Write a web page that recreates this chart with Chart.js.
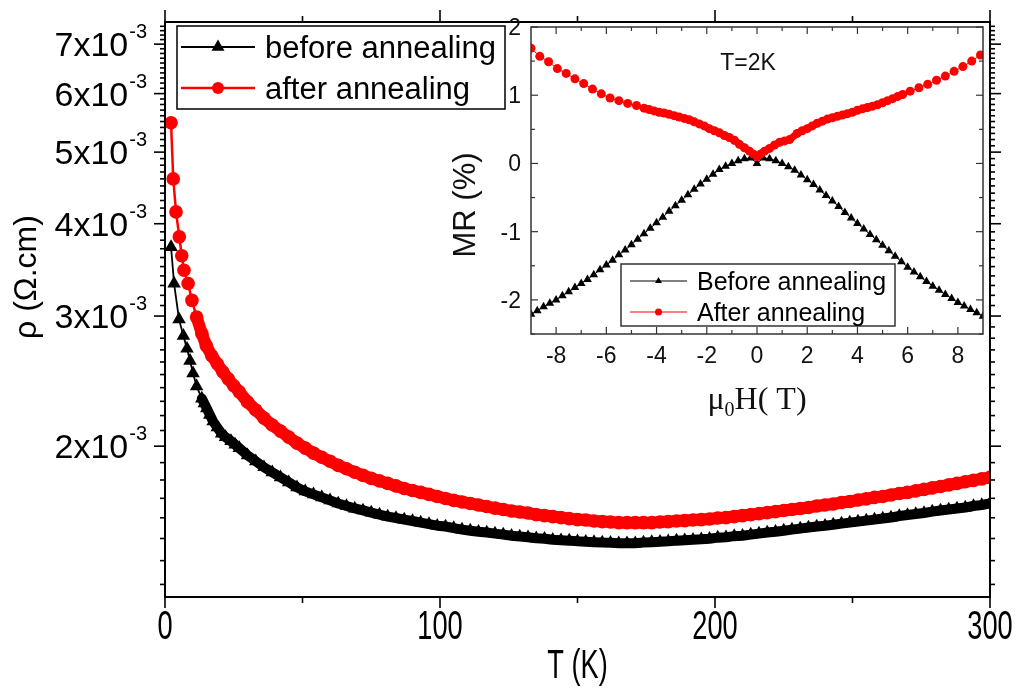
<!DOCTYPE html>
<html>
<head>
<meta charset="utf-8">
<script src="https://cdn.jsdelivr.net/npm/chart.js@4.4.0/dist/chart.umd.min.js"></script>
<style>
    html, body { margin: 0; padding: 0; background: #fff; overflow: hidden; }
    #wrap { position: relative; width: 1025px; height: 695px; }
    #main { position: absolute; left: 0; top: 0; }
    #inset { position: absolute; left: 420px; top: 0; }
</style>
</head>
<body>
<div id="wrap">
    <canvas id="main" width="1025" height="695"></canvas>
    <canvas id="inset" width="600" height="430"></canvas>
</div>
<script>
// rho in units of 10^-3 Ohm.cm, T in K
const tBefore = [2.2, 3.3, 5.1, 6.7, 8.0, 9.1, 10.2, 11.5, 13.4, 14.3, 15.2, 16.3, 17.5, 19.0, 20.6, 22, 24, 25.5,
    27, 30, 33, 36, 39, 42, 45, 48, 51, 54,
    57, 60, 63, 66, 69, 72, 75, 78, 81, 84,
    87, 90, 93, 96, 99, 102, 105, 108, 111, 114,
    117, 120, 123, 126, 129, 132, 135, 138, 141, 144,
    147, 150, 153, 156, 159, 162, 165, 168, 171, 174,
    177, 180, 183, 186, 189, 192, 195, 198, 201, 204,
    207, 210, 213, 216, 219, 222, 225, 228, 231, 234,
    237, 240, 243, 246, 249, 252, 255, 258, 261, 264,
    267, 270, 273, 276, 279, 282, 285, 288, 291, 294,
    297, 300];
const rhoBefore = [3.72, 3.32, 2.97, 2.82, 2.71, 2.61, 2.51, 2.41, 2.32, 2.285, 2.25, 2.205, 2.16, 2.12, 2.08, 2.057, 2.032, 2.01,
    1.988, 1.944, 1.908, 1.873, 1.844, 1.815, 1.787, 1.759, 1.737, 1.721,
    1.705, 1.689, 1.673, 1.660, 1.647, 1.637, 1.626, 1.616, 1.606, 1.599,
    1.591, 1.584, 1.576, 1.569, 1.561, 1.557, 1.549, 1.542, 1.537, 1.532,
    1.528, 1.523, 1.518, 1.513, 1.509, 1.506, 1.501, 1.499, 1.494, 1.492,
    1.490, 1.487, 1.485, 1.483, 1.481, 1.480, 1.478, 1.478, 1.478, 1.481,
    1.483, 1.485, 1.487, 1.490, 1.492, 1.494, 1.496, 1.499, 1.504, 1.506,
    1.511, 1.513, 1.518, 1.523, 1.528, 1.532, 1.537, 1.542, 1.547, 1.552,
    1.557, 1.561, 1.566, 1.571, 1.576, 1.581, 1.586, 1.591, 1.596, 1.601,
    1.609, 1.614, 1.619, 1.624, 1.631, 1.637, 1.642, 1.647, 1.652, 1.660,
    1.665, 1.673];

const tAfter = [2.2, 3.0, 4.0, 5.2, 6.1, 6.9, 8.4, 9.8, 11.5, 13.4, 15, 17, 19, 21, 23, 25, 27,
    30, 33, 36, 39, 42, 45, 48, 51, 54, 57,
    60, 63, 66, 69, 72, 75, 78, 81, 84, 87,
    90, 93, 96, 99, 102, 105, 108, 111, 114, 117,
    120, 123, 126, 129, 132, 135, 138, 141, 144, 147,
    150, 153, 156, 159, 162, 165, 168, 171, 174, 177,
    180, 183, 186, 189, 192, 195, 198, 201, 204, 207,
    210, 213, 216, 219, 222, 225, 228, 231, 234, 237,
    240, 243, 246, 249, 252, 255, 258, 261, 264, 267,
    270, 273, 276, 279, 282, 285, 288, 291, 294, 297,
    300];
const rhoAfter = [5.48, 4.60, 4.15, 3.84, 3.62, 3.46, 3.32, 3.15, 2.99, 2.84, 2.736, 2.651, 2.586, 2.522, 2.467, 2.414, 2.369,
    2.296, 2.239, 2.183, 2.136, 2.096, 2.057, 2.019, 1.988, 1.957, 1.932,
    1.908, 1.884, 1.864, 1.844, 1.826, 1.809, 1.795, 1.781, 1.767, 1.753,
    1.742, 1.732, 1.721, 1.710, 1.699, 1.689, 1.681, 1.673, 1.665, 1.657,
    1.649, 1.642, 1.634, 1.629, 1.624, 1.616, 1.611, 1.606, 1.601, 1.596,
    1.591, 1.589, 1.584, 1.581, 1.579, 1.576, 1.576, 1.576, 1.576, 1.576,
    1.579, 1.581, 1.584, 1.586, 1.589, 1.591, 1.594, 1.599, 1.601, 1.606,
    1.611, 1.616, 1.621, 1.626, 1.631, 1.637, 1.642, 1.647, 1.652, 1.660,
    1.665, 1.670, 1.678, 1.683, 1.691, 1.697, 1.705, 1.710, 1.718, 1.726,
    1.732, 1.740, 1.748, 1.756, 1.764, 1.773, 1.781, 1.790, 1.798, 1.806,
    1.815];

// inset: MR (%) vs mu0H (T) at T = 2 K
const fieldBefore = [-9, -8.75, -8.5, -8.25, -8, -7.75, -7.5, -7.25, -7, -6.75, -6.5, -6.25,
    -6, -5.75, -5.5, -5.25, -5, -4.75, -4.5, -4.25, -4, -3.75, -3.5, -3.25,
    -3, -2.75, -2.5, -2.25, -2, -1.75, -1.5, -1.25, -1, -0.75, -0.5, -0.25, 0,
    0.25, 0.5, 0.75, 1, 1.25, 1.5, 1.75, 2, 2.25, 2.5, 2.75, 3,
    3.25, 3.5, 3.75, 4, 4.25, 4.5, 4.75, 5, 5.25, 5.5, 5.75, 6,
    6.25, 6.5, 6.75, 7, 7.25, 7.5, 7.75, 8, 8.25, 8.5, 8.75, 9];
const mrBefore = [-2.21, -2.16, -2.10, -2.05, -2.00, -1.94, -1.88, -1.82, -1.76, -1.70, -1.63, -1.56,
    -1.49, -1.42, -1.34, -1.27, -1.19, -1.11, -1.03, -0.95, -0.87, -0.79, -0.70, -0.62,
    -0.54, -0.46, -0.38, -0.30, -0.23, -0.16, -0.09, -0.04, 0.00, 0.04, 0.07, 0.08, 0.00,
    0.08, 0.07, 0.04, 0.00, -0.05, -0.10, -0.17, -0.24, -0.31, -0.39, -0.47, -0.55,
    -0.63, -0.72, -0.80, -0.88, -0.96, -1.04, -1.12, -1.20, -1.28, -1.36, -1.44, -1.52,
    -1.59, -1.66, -1.73, -1.80, -1.86, -1.92, -1.98, -2.04, -2.09, -2.14, -2.19, -2.24];

const fieldAfter = [-9.0, -8.65, -8.3, -7.95, -7.6, -7.25, -6.9, -6.55, -6.2, -5.85, -5.5, -5.15, -4.8, -4.5,
    -4.3, -4.1, -3.9, -3.7, -3.5, -3.3, -3.1, -2.9, -2.7, -2.5, -2.3, -2.1, -1.9, -1.7, -1.5, -1.3, -1.1,
    -0.9, -0.7, -0.5, -0.3, -0.15, 0, 0.15, 0.3, 0.5, 0.7, 0.9, 1.1, 1.3,
    1.6, 1.8, 2.0, 2.2, 2.4, 2.6, 2.8, 3.0, 3.2, 3.4, 3.6, 3.8, 4.0, 4.2, 4.4, 4.6, 4.8,
    5.0, 5.2, 5.4, 5.6, 5.8, 6.1, 6.45, 6.8, 7.15, 7.5, 7.85, 8.2, 8.55, 8.9];
const mrAfter = [1.69, 1.57, 1.49, 1.39, 1.32, 1.24, 1.17, 1.09, 1.02, 0.96, 0.92, 0.88, 0.85, 0.81,
    0.79, 0.77, 0.75, 0.74, 0.72, 0.70, 0.68, 0.66, 0.64, 0.61, 0.58, 0.55, 0.51, 0.48, 0.45, 0.41, 0.38,
    0.34, 0.28, 0.23, 0.18, 0.14, 0.10, 0.14, 0.18, 0.22, 0.27, 0.31, 0.33, 0.35,
    0.44, 0.48, 0.51, 0.55, 0.59, 0.62, 0.65, 0.67, 0.69, 0.71, 0.73, 0.75, 0.78, 0.80, 0.82, 0.84, 0.86,
    0.89, 0.92, 0.95, 0.98, 1.01, 1.06, 1.11, 1.16, 1.22, 1.28, 1.35, 1.42, 1.50, 1.59];

// tick labels
const xTicks = [0, 100, 200, 300];
const xTickLabels = ['0', '100', '200', '300'];
const xMinorTicks = [50, 150, 250];
const yTicks = [2, 3, 4, 5, 6, 7];
const yTickLabels = ['2x10', '3x10', '4x10', '5x10', '6x10', '7x10'];
const yTickExp = '-3';
const insetXTicks = [-8, -6, -4, -2, 0, 2, 4, 6, 8];
const insetXTickLabels = ['-8', '-6', '-4', '-2', '0', '2', '4', '6', '8'];
const insetXMinor = [-7, -5, -3, -1, 1, 3, 5, 7];
const insetYTicks = [-2, -1, 0, 1, 2];
const insetYTickLabels = ['-2', '-1', '0', '1', '2'];
const insetYMinor = [-2.5, -1.5, -0.5, 0.5, 1.5];

const SANS = '"Liberation Sans", Arial, sans-serif';
const SERIF = '"Liberation Serif", "Times New Roman", serif';
const RED = '#ff0000';

const pairs = (xs, ys) => xs.map((v, i) => ({ x: v, y: ys[i] }));

const seg = (ctx, x1, y1, x2, y2) => {
    ctx.beginPath(); ctx.moveTo(x1, y1); ctx.lineTo(x2, y2); ctx.stroke();
};

const marker = (ctx, style, x, y, r) => {
    ctx.beginPath();
    if (style === 'circle') {
        ctx.arc(x, y, r, 0, Math.PI * 2);
    } else {
        ctx.moveTo(x, y - r);
        ctx.lineTo(x + r * Math.sin(Math.PI * 2 / 3), y + r * 0.5);
        ctx.lineTo(x - r * Math.sin(Math.PI * 2 / 3), y + r * 0.5);
        ctx.closePath();
    }
    ctx.fill();
};

const legendRow = (ctx, o) => {
    ctx.strokeStyle = o.color; ctx.fillStyle = o.color; ctx.lineWidth = o.lw;
    seg(ctx, o.x1, o.y, o.x2, o.y);
    marker(ctx, o.style, (o.x1 + o.x2) / 2, o.y, o.r);
    ctx.fillStyle = '#000';
    ctx.fillText(o.label, o.textX, o.y + o.base);
};

const mainAxes = {
    id: 'mainAxes',
    afterDatasetsDraw(chart) {
        const { ctx, chartArea: a, scales: { x, y } } = chart;
        ctx.save();
        ctx.strokeStyle = '#000';
        ctx.fillStyle = '#000';
        ctx.lineWidth = 2;
        ctx.strokeRect(a.left, a.top, a.right - a.left, a.bottom - a.top);

        ctx.lineWidth = 1.6;
        xTicks.forEach(v => {
            const px = x.getPixelForValue(v);
            seg(ctx, px, a.bottom, px, a.bottom + 11);
            seg(ctx, px, a.top, px, a.top - 12);
        });
        xMinorTicks.forEach(v => {
            const px = x.getPixelForValue(v);
            seg(ctx, px, a.bottom, px, a.bottom + 6);
            seg(ctx, px, a.top, px, a.top - 6);
        });
        for (let k = 13; k <= 74; k++) {
            if (k % 10 === 0) continue;
            const py = y.getPixelForValue(k / 10);
            seg(ctx, a.left - 5, py, a.left, py);
            seg(ctx, a.right, py, a.right + 5, py);
        }
        yTicks.forEach(v => {
            const py = y.getPixelForValue(v);
            seg(ctx, a.left - 11, py, a.left, py);
            seg(ctx, a.right, py, a.right + 11, py);
        });

        // y tick labels with superscript exponent
        ctx.textAlign = 'right';
        ctx.textBaseline = 'alphabetic';
        yTicks.forEach((v, i) => {
            const py = y.getPixelForValue(v);
            ctx.font = '20px ' + SANS;
            const ew = ctx.measureText(yTickExp).width;
            ctx.fillText(yTickExp, 147, py - 6);
            ctx.font = '34px ' + SANS;
            ctx.fillText(yTickLabels[i], 147 - ew - 1, py + 12);
        });

        // x tick labels and title, condensed
        ctx.save();
        const sx = 0.68;
        ctx.scale(sx, 1);
        ctx.textAlign = 'center';
        ctx.font = '40px ' + SANS;
        xTicks.forEach((v, i) => ctx.fillText(xTickLabels[i], x.getPixelForValue(v) / sx, 639));
        ctx.fillText('T (K)', (a.left + a.right) / 2 / sx, 678);
        ctx.restore();

        // y title
        ctx.save();
        ctx.translate(36, 277);
        ctx.rotate(-Math.PI / 2);
        ctx.textAlign = 'center';
        ctx.font = '32px ' + SANS;
        ctx.fillText('\u03c1 (\u03a9.cm)', 0, 0);
        ctx.restore();

        // legend
        ctx.fillStyle = '#fff';
        ctx.fillRect(177, 26, 328, 83);
        ctx.strokeStyle = '#000';
        ctx.lineWidth = 1.5;
        ctx.strokeRect(177, 26, 328, 83);
        ctx.font = '31px ' + SANS;
        ctx.textAlign = 'left';
        legendRow(ctx, { x1: 181, x2: 255, y: 47, color: '#000', lw: 2, style: 'triangle', r: 7.5,
            label: 'before annealing', textX: 265, base: 11 });
        legendRow(ctx, { x1: 181, x2: 255, y: 88, color: RED, lw: 2.5, style: 'circle', r: 6,
            label: 'after annealing', textX: 265, base: 11 });
        ctx.restore();
    }
};

const insetAxes = {
    id: 'insetAxes',
    afterDatasetsDraw(chart) {
        const { ctx, chartArea: a, scales: { x, y } } = chart;
        ctx.save();
        ctx.strokeStyle = '#333';
        ctx.fillStyle = '#000';
        ctx.lineWidth = 1.5;
        ctx.strokeRect(a.left, a.top, a.right - a.left, a.bottom - a.top);

        ctx.lineWidth = 1.2;
        insetXTicks.forEach(v => {
            const px = x.getPixelForValue(v);
            seg(ctx, px, a.bottom, px, a.bottom - 7);
            seg(ctx, px, a.top, px, a.top + 7);
        });
        insetXMinor.forEach(v => {
            const px = x.getPixelForValue(v);
            seg(ctx, px, a.bottom, px, a.bottom - 4);
            seg(ctx, px, a.top, px, a.top + 4);
        });
        insetYTicks.forEach(v => {
            const py = y.getPixelForValue(v);
            seg(ctx, a.left, py, a.left + 7, py);
            seg(ctx, a.right, py, a.right - 7, py);
        });
        insetYMinor.forEach(v => {
            const py = y.getPixelForValue(v);
            seg(ctx, a.left, py, a.left + 4, py);
            seg(ctx, a.right, py, a.right - 4, py);
        });

        ctx.font = '23px ' + SANS;
        ctx.fillStyle = '#111';
        ctx.textAlign = 'center';
        insetXTicks.forEach((v, i) => ctx.fillText(insetXTickLabels[i], x.getPixelForValue(v), 363));
        ctx.textAlign = 'right';
        insetYTicks.forEach((v, i) => ctx.fillText(insetYTickLabels[i], a.left - 10, y.getPixelForValue(v) + 8));

        ctx.textAlign = 'center';
        ctx.fillText('T=2K', 328, 70);

        // y title
        ctx.save();
        ctx.translate(55, 205);
        ctx.rotate(-Math.PI / 2);
        ctx.font = '31px ' + SANS;
        ctx.fillText('MR (%)', 0, 0);
        ctx.restore();

        // x title: mu0 H( T)
        ctx.textAlign = 'left';
        ctx.font = '32px ' + SERIF;
        const wMu = ctx.measureText('\u03bc').width;
        const wH = ctx.measureText('H( T)').width;
        ctx.font = '20px ' + SERIF;
        const wSub = ctx.measureText('0').width;
        let tx = (a.left + a.right) / 2 - (wMu + wSub + wH) / 2;
        ctx.font = '32px ' + SERIF;
        ctx.fillText('\u03bc', tx, 409);
        ctx.font = '20px ' + SERIF;
        ctx.fillText('0', tx + wMu, 416);
        ctx.font = '32px ' + SERIF;
        ctx.fillText('H( T)', tx + wMu + wSub, 409);

        // legend
        ctx.fillStyle = '#fff';
        ctx.fillRect(201, 264, 274, 62);
        ctx.strokeStyle = '#333';
        ctx.lineWidth = 1.5;
        ctx.strokeRect(201, 264, 274, 62);
        ctx.font = '25px ' + SANS;
        legendRow(ctx, { x1: 210, x2: 267, y: 281, color: '#000', lw: 1, style: 'triangle', r: 4,
            label: 'Before annealing', textX: 277, base: 9 });
        legendRow(ctx, { x1: 210, x2: 267, y: 312, color: RED, lw: 1, style: 'circle', r: 3.5,
            label: 'After annealing', textX: 277, base: 9 });
        ctx.restore();
    }
};

// dense measurement region: markers overlap into a solid band
const bandWidth = (from, wide, thin) => c => (c.p0.parsed.x >= from ? wide : thin);

new Chart(document.getElementById('main'), {
    type: 'scatter',
    data: {
        datasets: [
            {
                label: 'after annealing', data: pairs(tAfter, rhoAfter), showLine: true, order: 0,
                borderColor: RED, backgroundColor: RED, borderWidth: 2.5,
                borderJoinStyle: 'round', borderCapStyle: 'round',
                segment: { borderWidth: bandWidth(11, 12, 2.5) },
                pointStyle: 'circle', pointRadius: 6.8, pointBorderWidth: 0
            },
            {
                label: 'before annealing', data: pairs(tBefore, rhoBefore), showLine: true, order: 1,
                borderColor: '#000', backgroundColor: '#000', borderWidth: 1.8,
                borderJoinStyle: 'round', borderCapStyle: 'round',
                segment: { borderWidth: bandWidth(13, 10, 1.8) },
                pointStyle: 'triangle', pointRadius: 7.8, pointBorderWidth: 0
            }
        ]
    },
    options: {
        responsive: false, animation: false, devicePixelRatio: 1,
        layout: { padding: { left: 165, right: 35, top: 22, bottom: 98 } },
        scales: {
            x: { type: 'linear', min: 0, max: 300, display: false },
            y: { type: 'logarithmic', min: 1.25, max: 7.5, display: false }
        },
        plugins: { legend: { display: false }, tooltip: { enabled: false } }
    },
    plugins: [mainAxes]
});

new Chart(document.getElementById('inset'), {
    type: 'scatter',
    data: {
        datasets: [
            {
                label: 'After annealing', data: pairs(fieldAfter, mrAfter), showLine: true, order: 0,
                borderColor: RED, backgroundColor: RED, borderWidth: 1,
                borderJoinStyle: 'round', borderCapStyle: 'round',
                segment: { borderWidth: c => (Math.abs(c.p0.parsed.x) <= 4.6 && Math.abs(c.p1.parsed.x) <= 4.6 ? 7 : 1) },
                pointStyle: 'circle', pointRadius: 4.5, pointBorderWidth: 0
            },
            {
                label: 'Before annealing', data: pairs(fieldBefore, mrBefore), showLine: true, order: 1,
                borderColor: '#000', backgroundColor: '#000', borderWidth: 1,
                pointStyle: 'triangle', pointRadius: 5, pointBorderWidth: 0
            }
        ]
    },
    options: {
        responsive: false, animation: false, devicePixelRatio: 1,
        layout: { padding: { left: 111, right: 37, top: 27, bottom: 96 } },
        scales: {
            x: { type: 'linear', min: -9, max: 9, display: false },
            y: { type: 'linear', min: -2.5, max: 2, display: false }
        },
        plugins: { legend: { display: false }, tooltip: { enabled: false } }
    },
    plugins: [insetAxes]
});
</script>
</body>
</html>
